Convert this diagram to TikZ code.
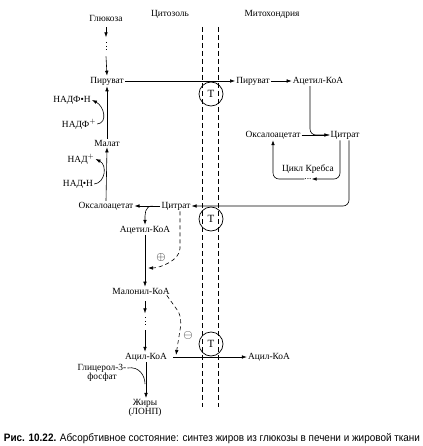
\documentclass[tikz,border=0pt]{standalone}
\usepackage{fontspec}
\setmainfont{Liberation Serif}
\newfontfamily\capfont{Liberation Sans}
\usetikzlibrary{arrows.meta}
\tikzset{
lbl/.style={font=\fontsize{9.4}{9.6}\selectfont,inner sep=1pt},
sign/.style={font=\fontsize{12}{12}\selectfont,inner sep=0pt},
membrane/.style={line width=0.7pt,dash pattern=on 5pt off 3pt},
transp/.style={draw,circle,minimum size=24pt,inner sep=0pt,line width=0.7pt,font=\fontsize{11}{11}\selectfont},
flow/.style={-{Latex[length=5pt,width=3.6pt]},line width=0.6pt},
plain/.style={line width=0.6pt},
regline/.style={flow,dash pattern=on 4pt off 3pt},
dotseg/.style={line width=0.7pt,dash pattern=on 1pt off 2.5pt}
}
\begin{document}
\begin{tikzpicture}[x=1pt,y=-1pt]
\useasboundingbox (0,0) rectangle (422,446);
% membrane
\foreach \x in {202,218}
  \draw[membrane] (\x,27) -- (\x,407);
\foreach \y/\n in {94/1,219/2,344/3}
  \node[transp] (t\n) at (211,\y) {T};
% compartments
\node[lbl] (cyto) at (170,14) {Цитозоль};
\node[lbl] (mito) at (272,14) {Митохондрия};
% cytosol
\node[lbl] (glc) at (106,18) {Глюкоза};
\node[lbl] (pyrc) at (107,81) {Пируват};
\node[lbl] (nadph) at (72,100) {НАДФ•Н};
\node[lbl] (nadp) at (79,124) {НАДФ$^{+}$};
\node[lbl] (malc) at (107,143) {Малат};
\node[lbl] (nad) at (81,159) {НАД$^{+}$};
\node[lbl] (nadh) at (78,184) {НАД•Н};
\node[lbl] (oaac) at (106,206) {Оксалоацетат};
\node[lbl] (citc) at (176,206) {Цитрат};
\node[lbl] (acc) at (145,230) {Ацетил-КоА};
\node[lbl] (mlc) at (141,291) {Малонил-КоА};
\node[lbl] (acylc) at (146,357) {Ацил-КоА};
\node[lbl,align=center] (glyc) at (102,373) {Глицерол-3-\\фосфат};
\node[lbl,align=center] (fat) at (145,408) {Жиры\\(ЛОНП)};
\node[sign] (plus) at (161,257) {$\oplus$};
\node[sign] (minus) at (188,335) {$\ominus$};
% mitochondrion
\node[lbl] (pyrm) at (253,81) {Пируват};
\node[lbl] (acm) at (318,81) {Ацетил-КоА};
\node[lbl] (oaam) at (273,135) {Оксалоацетат};
\node[lbl] (citm) at (345,135) {Цитрат};
\node[lbl] (krebs) at (308,169) {Цикл Кребса};
\node[lbl,inner sep=0pt] (dots) at (308,179) {...};
\node[lbl] (acylm) at (269,357) {Ацил-КоА};
\coordinate (acmid) at (148,268);
\coordinate (inh) at (176,355);
\coordinate (fj) at (145,384);
% glucose -> pyruvate
\draw[flow] (glc.south) ++(0,5) -- ++(0,10) coordinate (g1);
\draw[dotseg] (g1) ++(0,5) -- ++(0,10) coordinate (g2);
\draw[flow] (g2) ++(0,4) -- (pyrc.north);
% transport of pyruvate, citrate, acyl-CoA
\draw[flow] (pyrc.east) -- (pyrm.west);
\draw[flow] (pyrm.east) -- (acm.west);
\draw[plain,rounded corners=6pt] ([xshift=-8pt]acm.south) |- (citm.west);
\draw[flow] (oaam.east) -- (citm.west);
\draw[flow,rounded corners=6pt] ([xshift=-5pt]citm.south) |- (dots.east);
\draw[flow,rounded corners=6pt] (dots.west) -| (oaam.south);
\draw[flow,rounded corners=6pt] ([xshift=4pt]citm.south) |- (citc.east);
\draw[flow] ([xshift=5pt]acylc.east) -- (acylm.west);
% citrate cleavage, malate shuttle
\draw[flow] (citc.west) -- (oaac.east);
\draw[flow] ([xshift=-8pt]citc.west) .. controls +(-8,0) and +(0,-10) .. (acc.north);
\draw[flow] (oaac.north) -- (malc.south);
\draw[flow] (malc.north) -- (pyrc.south);
\draw[flow] (nadp.east) .. controls +(11,-1) and +(12,6) .. (nadph.east);
\draw[flow] (nadh.east) .. controls +(11,-1) and +(12,6) .. (nad.east);
% fatty acid synthesis
\draw[flow] (acc.south) -- (acc.south |- mlc.north);
\draw[flow] ([xshift=4pt]mlc.south) ++(0,6) -- ++(0,12) coordinate (m1);
\draw[dotseg] (m1) ++(0,4) -- ++(0,9) coordinate (m2);
\draw[flow] (m2) ++(0,4) -- (m2 |- acylc.north);
\draw[regline] ([xshift=4pt]citc.south) -- ++(0,37) .. controls +(0,12) and +(12,0) .. (acmid);
\draw[regline] ([xshift=-4pt]mlc.south east) -- ++(10,14) .. controls +(3,4) and +(0,-8) .. ++(4,16) -- (inh);
\draw[flow] (acylc.south) -- (acylc.south |- fat.north);
\draw[plain] ([yshift=5pt]glyc.east) .. controls +(12,-2) and +(0,-8) .. (fj);
% caption
\node[anchor=base,inner sep=0pt] (cap) at (212,441)
  {\capfont\resizebox{416pt}{8pt}{\textbf{Рис. 10.22.} Абсорбтивное состояние: синтез жиров из глюкозы в печени и жировой ткани}};
\end{tikzpicture}
\end{document}
